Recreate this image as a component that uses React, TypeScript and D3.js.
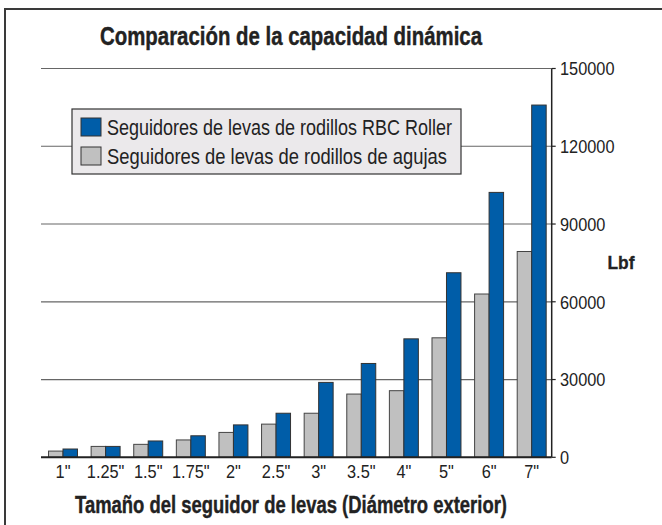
import React from "react";
import * as d3 from "d3";

const categories = ['1"', '1.25"', '1.5"', '1.75"', '2"', '2.5"', '3"', '3.5"', '4"', '5"', '6"', '7"'];
const needleValues = [2400, 4200, 5000, 6700, 9600, 12800, 17000, 24400, 25700, 46100, 63000, 79400];
const rbcValues = [3200, 4200, 6300, 8300, 12500, 17000, 28900, 36200, 45700, 71200, 102200, 135900];
const yTicks = [0, 30000, 60000, 90000, 120000, 150000];
const seriesKeys = ["needle", "rbc"];
const seriesLabels = [
  "Seguidores de levas de rodillos RBC Roller",
  "Seguidores de levas de rodillos de agujas",
];
const title = "Comparación de la capacidad dinámica";
const xTitle = "Tamaño del seguidor de levas (Diámetro exterior)";
const yTitle = "Lbf";

const W = 662;
const H = 525;
const BLUE = "#005da8";
const GRAY = "#c0c0c0";
const FONT = "'Liberation Sans', Arial, sans-serif";
const SX = 0.86;

export default function App() {
  const x = d3.scaleBand<string>().domain(categories).range([41.7, 553]).paddingInner(0.32).paddingOuter(0.16);
  const xs = d3.scaleBand<string>().domain(seriesKeys).range([0, x.bandwidth()]);
  const y = d3.scaleLinear().domain([0, 150000]).range([457.3, 68.5]);
  const axisX = 551.7;

  const rows = categories.map((c, i) => ({ c, needle: needleValues[i], rbc: rbcValues[i] }));
  const legendWidths = [345, 340];

  return (
    <svg width={W} height={H} style={{ position: "absolute", left: 0, top: 0, background: "#fff" }} fontFamily={FONT}>
      <rect x={0} y={0} width={W} height={H} fill="#fff" />
      {/* frame */}
      <line x1={4} x2={W} y1={9} y2={9} stroke="#3a3a3a" strokeWidth={2} />
      <line x1={5} x2={5} y1={9} y2={H} stroke="#3a3a3a" strokeWidth={2} />

      <text x={100} y={44.5} fontSize={25} fontWeight="bold" fill="#222" stroke="#222" strokeWidth={0.4} textLength={382} lengthAdjust="spacingAndGlyphs">{title}</text>

      {/* gridlines */}
      {yTicks.filter((t) => t > 0).map((t) => (
        <line key={t} x1={41} x2={axisX} y1={y(t)} y2={y(t)} stroke="#666" strokeWidth={1.2} />
      ))}

      {/* bars */}
      {rows.map((r) => (
        <g key={r.c} transform={`translate(${x(r.c)},0)`}>
          <rect x={xs("needle")} y={y(r.needle)} width={xs.bandwidth()} height={y(0) - y(r.needle)} fill={GRAY} stroke="#444" strokeWidth={1} />
          <rect x={xs("rbc")} y={y(r.rbc)} width={xs.bandwidth()} height={y(0) - y(r.rbc)} fill={BLUE} stroke="#333" strokeWidth={1} />
        </g>
      ))}

      {/* baseline */}
      <line x1={41} x2={axisX} y1={y(0)} y2={y(0)} stroke="#222" strokeWidth={2} />
      {/* right axis */}
      <line x1={axisX} x2={axisX} y1={y(150000)} y2={y(0)} stroke="#222" strokeWidth={1.5} />
      {yTicks.map((t) => (
        <g key={t}>
          <line x1={axisX} x2={axisX + 4} y1={y(t)} y2={y(t)} stroke="#222" strokeWidth={1.2} />
          <g transform={`translate(560,${y(t)}) scale(${SX},1)`}>
            <text x={0} y={0} dy="0.36em" fontSize={19} fill="#222">{t}</text>
          </g>
        </g>
      ))}
      <text x={607.5} y={262} dy="0.36em" fontSize={19} fontWeight="bold" fill="#222" stroke="#222" strokeWidth={0.3} textLength={27} lengthAdjust="spacingAndGlyphs">{yTitle}</text>

      {/* x labels */}
      {categories.map((c) => (
        <g key={c} transform={`translate(${(x(c) as number) + x.bandwidth() / 2},478) scale(${SX},1)`}>
          <text x={0} y={0} textAnchor="middle" fontSize={19} fill="#222">{c}</text>
        </g>
      ))}
      <text x={75} y={513} fontSize={23.5} fontWeight="bold" fill="#222" stroke="#222" strokeWidth={0.4} textLength={432} lengthAdjust="spacingAndGlyphs">{xTitle}</text>

      {/* legend */}
      <rect x={72} y={109} width={389} height={65} fill="#ebe9eb" stroke="#333" strokeWidth={1.2} />
      {[BLUE, GRAY].map((col, i) => (
        <g key={i} transform={`translate(0,${i * 29})`}>
          <rect x={81} y={118} width={20} height={18} fill={col} stroke="#333" strokeWidth={1} />
          <text x={107} y={127} dy="0.36em" fontSize={22} fill="#222" textLength={legendWidths[i]} lengthAdjust="spacingAndGlyphs">{seriesLabels[i]}</text>
        </g>
      ))}
    </svg>
  );
}
